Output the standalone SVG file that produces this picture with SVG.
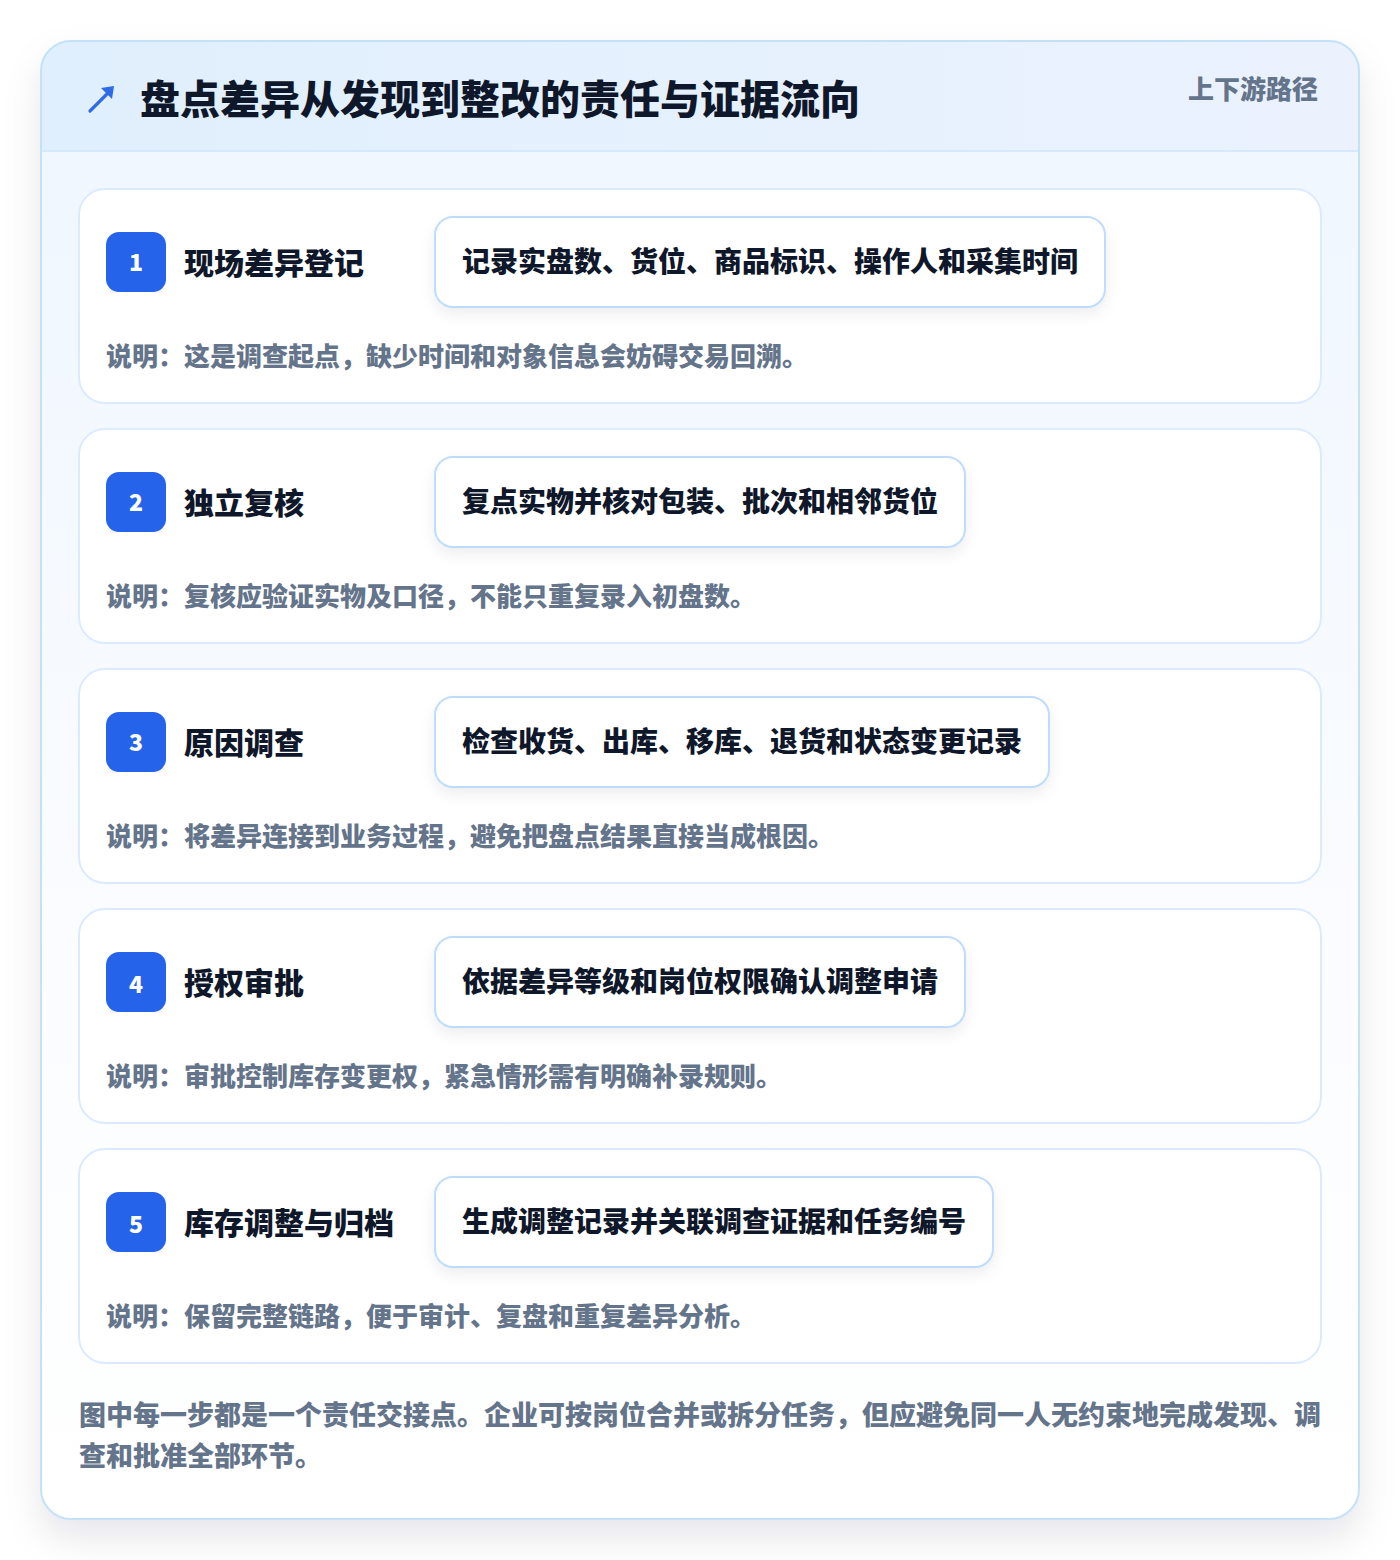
<svg xmlns="http://www.w3.org/2000/svg" width="1400" height="1560" viewBox="0 0 1400 1560">
<defs>
<linearGradient id="hdr" x1="0" y1="0" x2="1" y2="0"><stop offset="0" stop-color="#e0effd"/><stop offset="1" stop-color="#ebf2fe"/></linearGradient>
<linearGradient id="body" x1="0" y1="0" x2="0" y2="1"><stop offset="0" stop-color="#eef6ff"/><stop offset="0.6" stop-color="#fafcff"/><stop offset="1" stop-color="#ffffff"/></linearGradient>
<filter id="outerShadow" x="-10%" y="-10%" width="120%" height="120%"><feDropShadow dx="0" dy="18" stdDeviation="18" flood-color="#0f172a" flood-opacity="0.10"/></filter>
<filter id="pillShadow" x="-10%" y="-30%" width="120%" height="170%"><feDropShadow dx="0" dy="6" stdDeviation="7" flood-color="#0f172a" flood-opacity="0.07"/></filter>
<clipPath id="outerClip"><rect x="41" y="41" width="1318" height="1478" rx="30"/></clipPath>
</defs>
<style>
.card{fill:#ffffff;stroke:#dbeafe;stroke-width:2}
.badge{fill:#2563eb}
.num{font-family:"Noto Sans CJK SC","Liberation Sans",sans-serif;font-weight:900;font-size:23px;fill:#ffffff;text-anchor:middle}
.ttl{font-family:"Noto Sans CJK SC",sans-serif;font-weight:800;font-size:30px;fill:#0f172a}
.pill{fill:#ffffff;stroke:#bfdbfe;stroke-width:2}
.ptxt{font-family:"Noto Sans CJK SC",sans-serif;font-weight:800;font-size:28px;fill:#0f172a}
.desc{font-family:"Noto Sans CJK SC",sans-serif;font-weight:800;font-size:26px;fill:#64748b}
.foot{font-family:"Noto Sans CJK SC",sans-serif;font-weight:800;font-size:27px;fill:#64748b}
</style>
<rect x="0" y="0" width="1400" height="1560" fill="#ffffff"/>
<g id="frame">
<rect x="41" y="41" width="1318" height="1478" rx="30" fill="url(#body)" filter="url(#outerShadow)"/>
<g clip-path="url(#outerClip)">
<rect x="41" y="41" width="1318" height="110" fill="url(#hdr)"/>
<line x1="41" y1="151" x2="1359" y2="151" stroke="#d6e8fb" stroke-width="2"/>
</g>
<rect x="41" y="41" width="1318" height="1478" rx="30" fill="none" stroke="#c4e2f7" stroke-width="2"/>
</g>
<g id="header">
<path d="M90 111 L111 90" stroke="#2f6be6" stroke-width="3.2" stroke-linecap="round" fill="none"/>
<path d="M101 88 L114 86 L112 99 Z" fill="#2f6be6"/>
<text x="140" y="114" font-family="Noto Sans CJK SC,sans-serif" font-weight="800" font-size="40" fill="#0f172a">盘点差异从发现到整改的责任与证据流向</text>
<text x="1318" y="99" font-family="Noto Sans CJK SC,sans-serif" font-weight="800" font-size="26" fill="#64748b" text-anchor="end">上下游路径</text>
</g>
<g id="step1">
<rect class="card" x="79" y="189" width="1242" height="214" rx="26"/>
<rect class="badge" x="106" y="232" width="60" height="60" rx="13"/>
<text class="num" x="136" y="271">1</text>
<text class="ttl" x="184" y="274">现场差异登记</text>
<rect class="pill" x="435" y="217" width="670" height="90" rx="18" filter="url(#pillShadow)"/>
<text class="ptxt" x="462" y="272">记录实盘数、货位、商品标识、操作人和采集时间</text>
<text class="desc" x="106" y="366">说明：这是调查起点，缺少时间和对象信息会妨碍交易回溯。</text>
</g>
<g id="step2">
<rect class="card" x="79" y="429" width="1242" height="214" rx="26"/>
<rect class="badge" x="106" y="472" width="60" height="60" rx="13"/>
<text class="num" x="136" y="511">2</text>
<text class="ttl" x="184" y="514">独立复核</text>
<rect class="pill" x="435" y="457" width="530" height="90" rx="18" filter="url(#pillShadow)"/>
<text class="ptxt" x="462" y="512">复点实物并核对包装、批次和相邻货位</text>
<text class="desc" x="106" y="606">说明：复核应验证实物及口径，不能只重复录入初盘数。</text>
</g>
<g id="step3">
<rect class="card" x="79" y="669" width="1242" height="214" rx="26"/>
<rect class="badge" x="106" y="712" width="60" height="60" rx="13"/>
<text class="num" x="136" y="751">3</text>
<text class="ttl" x="184" y="754">原因调查</text>
<rect class="pill" x="435" y="697" width="614" height="90" rx="18" filter="url(#pillShadow)"/>
<text class="ptxt" x="462" y="752">检查收货、出库、移库、退货和状态变更记录</text>
<text class="desc" x="106" y="846">说明：将差异连接到业务过程，避免把盘点结果直接当成根因。</text>
</g>
<g id="step4">
<rect class="card" x="79" y="909" width="1242" height="214" rx="26"/>
<rect class="badge" x="106" y="952" width="60" height="60" rx="13"/>
<text class="num" x="136" y="993">4</text>
<text class="ttl" x="184" y="994">授权审批</text>
<rect class="pill" x="435" y="937" width="530" height="90" rx="18" filter="url(#pillShadow)"/>
<text class="ptxt" x="462" y="992">依据差异等级和岗位权限确认调整申请</text>
<text class="desc" x="106" y="1086">说明：审批控制库存变更权，紧急情形需有明确补录规则。</text>
</g>
<g id="step5">
<rect class="card" x="79" y="1149" width="1242" height="214" rx="26"/>
<rect class="badge" x="106" y="1192" width="60" height="60" rx="13"/>
<text class="num" x="136" y="1233">5</text>
<text class="ttl" x="184" y="1234">库存调整与归档</text>
<rect class="pill" x="435" y="1177" width="558" height="90" rx="18" filter="url(#pillShadow)"/>
<text class="ptxt" x="462" y="1232">生成调整记录并关联调查证据和任务编号</text>
<text class="desc" x="106" y="1326">说明：保留完整链路，便于审计、复盘和重复差异分析。</text>
</g>
<g id="connectors"></g>
<g id="footer">
<text class="foot" x="79" y="1425">图中每一步都是一个责任交接点。企业可按岗位合并或拆分任务，但应避免同一人无约束地完成发现、调</text>
<text class="foot" x="79" y="1466">查和批准全部环节。</text>
</g>
</svg>
